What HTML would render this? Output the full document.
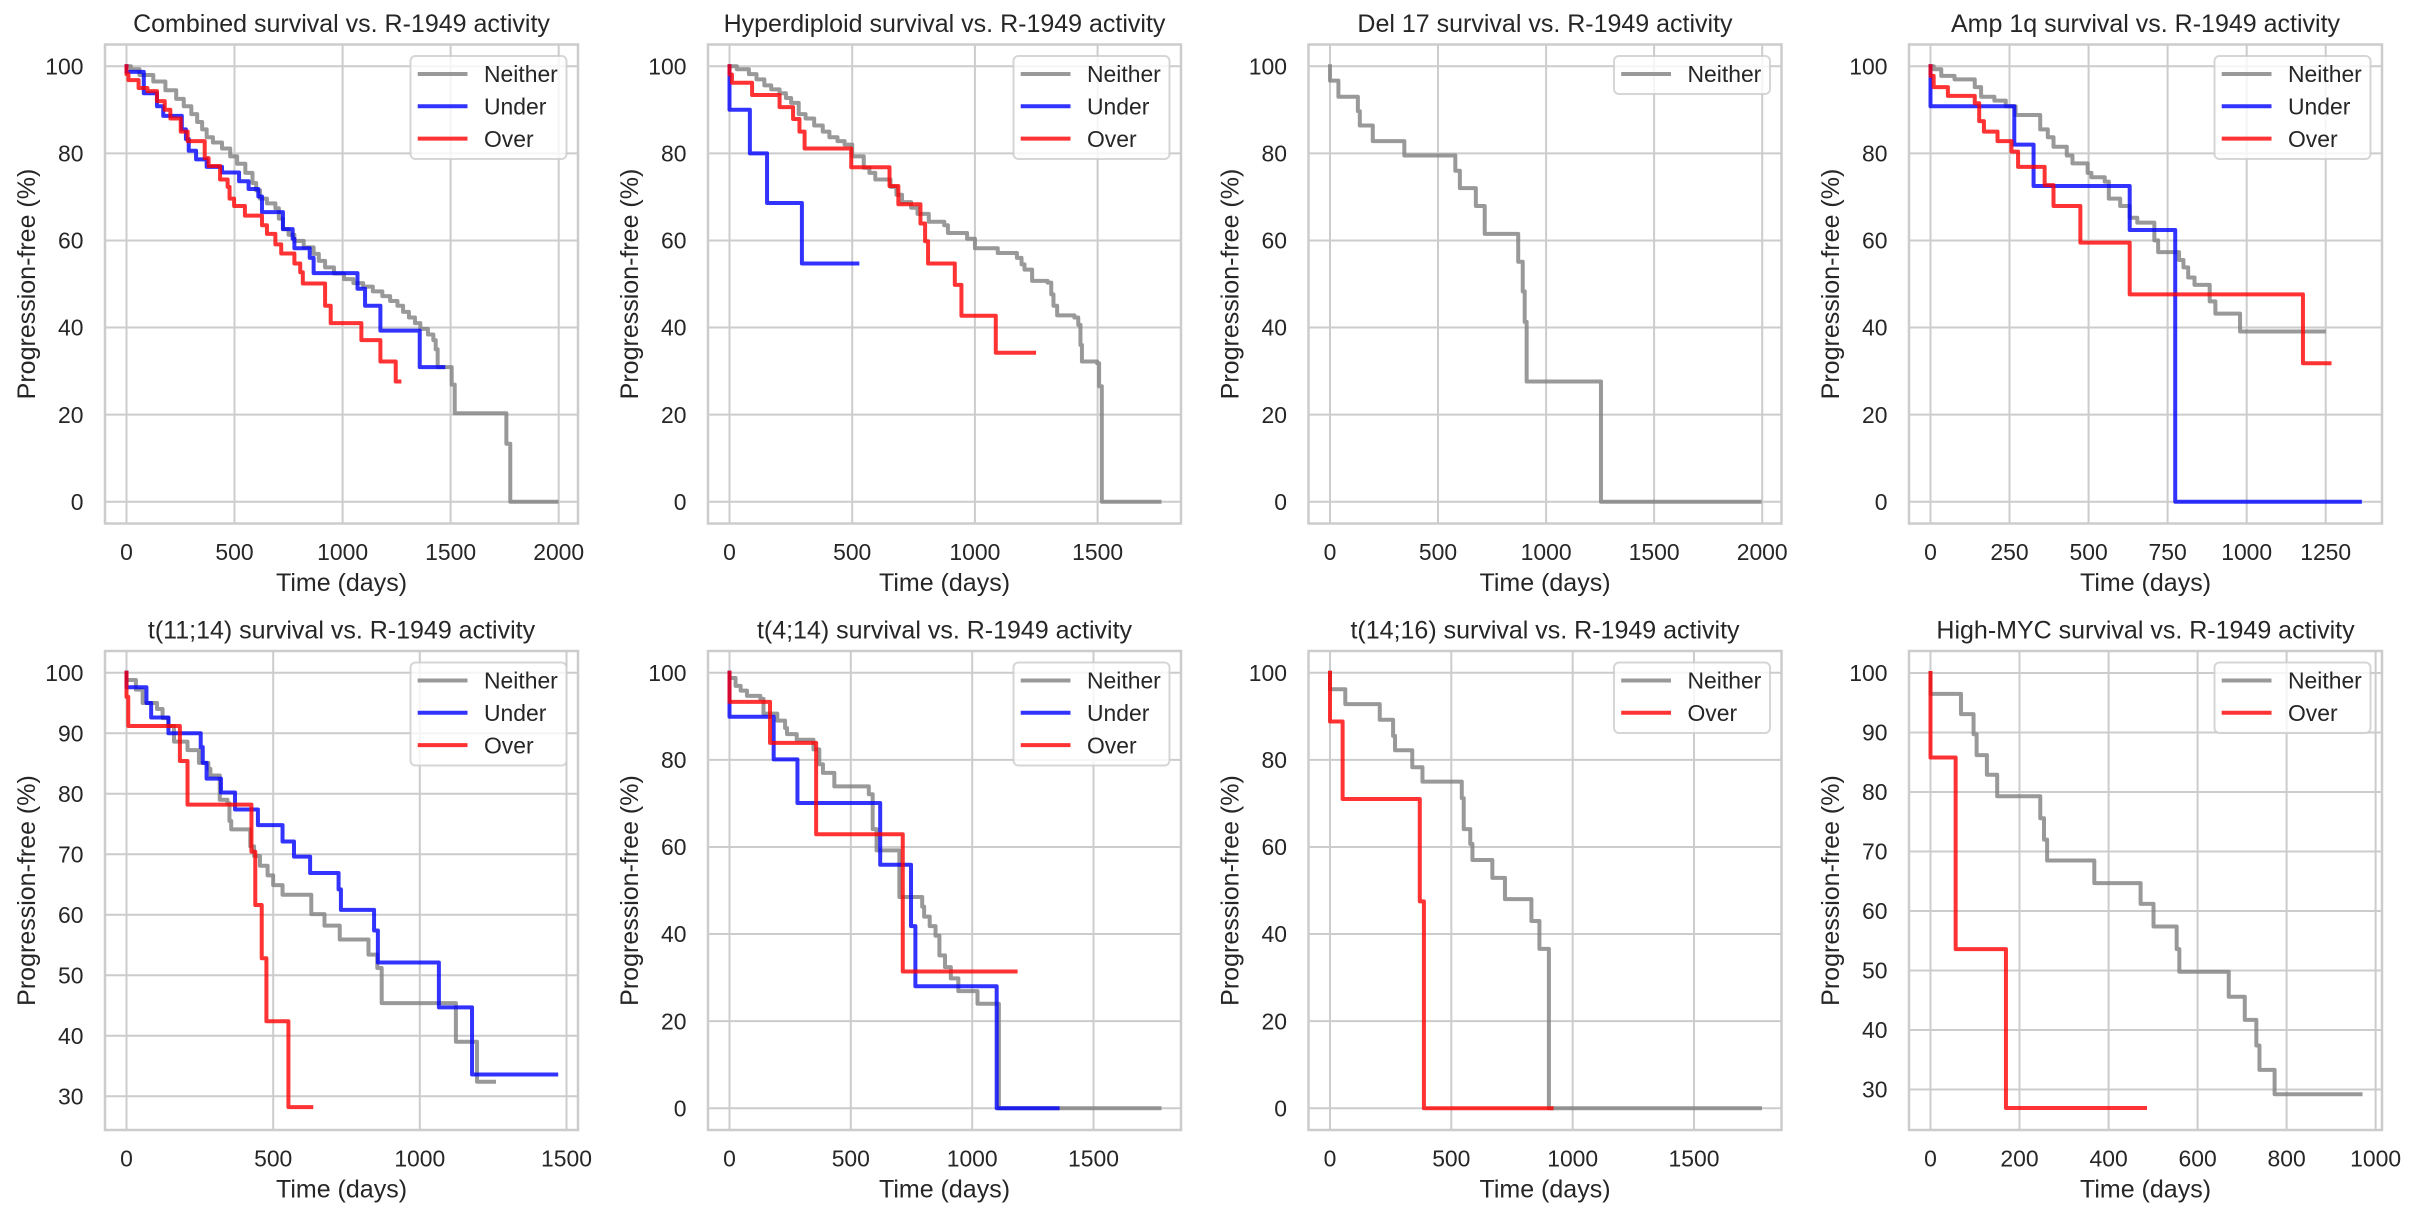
<!DOCTYPE html>
<html><head><meta charset="utf-8"><style>
body{margin:0;background:#fff}
svg{display:block}
text{font-family:"Liberation Sans",Arial,sans-serif;fill:#262626}
.g{fill:none;stroke:#cccccc;stroke-width:2}
.sp{fill:none;stroke:#cccccc;stroke-width:2.5}
.c{fill:none;stroke-width:4;stroke-linejoin:round;stroke-linecap:square;stroke-opacity:.8}
.h{fill:none;stroke-width:4;stroke-linecap:square;stroke-opacity:.8}
.n{stroke:#808080}.u{stroke:#0000ff}.o{stroke:#ff0000}
.ti{font-size:25px;text-anchor:middle}
.xl{font-size:25px;text-anchor:middle}
.xt{font-size:22.9px;text-anchor:middle}
.yt{font-size:22.9px;text-anchor:end}
.lg{font-size:22.9px}
.lf{fill:#fff;fill-opacity:.8;stroke:#cccccc;stroke-opacity:.8;stroke-width:2}
</style></head><body>
<svg width="2418" height="1218" viewBox="0 0 2418 1218" xmlns="http://www.w3.org/2000/svg">
<rect width="2418" height="1218" fill="#fff"/>

<!-- ================= Panel A: Combined ================= -->
<path class="g" d="M126.5 44.5V523.5M234.5 44.5V523.5M342.6 44.5V523.5M450.6 44.5V523.5M558.7 44.5V523.5M105 66.3H578M105 153.4H578M105 240.5H578M105 327.5H578M105 414.6H578M105 501.7H578"/>
<g transform="translate(126.5,501.7) scale(0.21608,-4.3545)">
<path class="c n" vector-effect="non-scaling-stroke" d="M0,100 H20 V99.3 H60 V98 H124 V96.5 H180 V94.5 H230 V92.5 H265 V90.8 H300 V89 H327 V87.2 H350 V85.5 H371 V83.7 H400 V82.5 H442 V81.1 H480 V79.3 H512 V77.6 H550 V75.5 H583 V73.2 H600 V71.5 H618 V69.6 H650 V68.5 H689 V67.4 H705 V65 H724 V62.6 H750 V61.3 H777 V59.9 H820 V58.4 H866 V56.9 H890 V55.3 H919 V53.8 H960 V52.4 H1007 V51.1 H1050 V50.2 H1095 V49.4 H1140 V48.3 H1184 V47.2 H1220 V46.1 H1254 V45 H1280 V43.6 H1307 V42.3 H1335 V41 H1360 V39.7 H1395 V38.4 H1420 V37.1 H1431 V35 H1440 V30.9 H1505 V26.9 H1519 V20.3 H1758 V13.3 H1776 V0 H1990"/>
<path class="c u" vector-effect="non-scaling-stroke" d="M0,100 V98.7 H80 V93.8 H141 V90.8 H170 V88.6 H256 V85.5 H275 V83.3 H288 V80.6 H322 V78.6 H371 V76.9 H442 V75.6 H521 V73.6 H565 V71.8 H610 V70.1 H627 V66.5 H724 V62.6 H769 V60.4 H777 V58.2 H848 V56 H866 V52.5 H1069 V48.9 H1104 V45 H1175 V39.3 H1357 V30.9 H1466"/>
<path class="c o" vector-effect="non-scaling-stroke" d="M0,100 V98.2 H9 V96.8 H56 V95 H97 V94.3 H141 V92 H177 V90 H203 V88 H251 V85 H283 V82.8 H362 V78.9 H380 V77.1 H433 V74 H468 V72.3 H477 V69.6 H498 V67.9 H548 V65.7 H627 V63.5 H650 V61.5 H689 V59.1 H716 V57 H777 V54.7 H804 V52.7 H816 V50.1 H919 V45 H945 V41 H1087 V37.1 H1175 V32.2 H1246 V27.6 H1263"/>
</g>
<rect class="sp" x="105" y="44.5" width="473" height="479"/>
<text class="yt" x="83.5" y="74.5">100</text><text class="yt" x="83.5" y="161.6">80</text><text class="yt" x="83.5" y="248.7">60</text><text class="yt" x="83.5" y="335.7">40</text><text class="yt" x="83.5" y="422.8">20</text><text class="yt" x="83.5" y="509.9">0</text>
<text class="xt" x="126.5" y="560">0</text><text class="xt" x="234.5" y="560">500</text><text class="xt" x="342.6" y="560">1000</text><text class="xt" x="450.6" y="560">1500</text><text class="xt" x="558.7" y="560">2000</text>
<text class="ti" x="341.5" y="32">Combined survival vs. R-1949 activity</text>
<text class="xl" x="341.5" y="591">Time (days)</text>
<text class="xl" transform="translate(35,284) rotate(-90)">Progression-free (%)</text>
<rect class="lf" x="410.5" y="56" width="156" height="103" rx="5"/>
<path class="h n" d="M419.7 74H465.5"/><path class="h u" d="M419.7 106.3H465.5"/><path class="h o" d="M419.7 138.6H465.5"/>
<text class="lg" x="484" y="82.2">Neither</text><text class="lg" x="484" y="114.5">Under</text><text class="lg" x="484" y="146.8">Over</text>

<!-- ================= Panel B: Hyperdiploid ================= -->
<path class="g" d="M729.5 44.5V523.5M852.2 44.5V523.5M974.9 44.5V523.5M1097.6 44.5V523.5M708 66.3H1181M708 153.4H1181M708 240.5H1181M708 327.5H1181M708 414.6H1181M708 501.7H1181"/>
<g transform="translate(729.5,501.7) scale(0.24543,-4.3545)">
<path class="c n" vector-effect="non-scaling-stroke" d="M0,100 H30 V99.3 H79 V98.2 H110 V97 H142 V95.6 H170 V94.7 H204 V93.8 H230 V92.7 H251 V91.6 H282 V89 H310 V88 H345 V86.4 H380 V85 H407 V83.7 H440 V82.8 H469 V82 H500 V79.3 H547 V76.7 H570 V75.5 H594 V74 H656 V72.3 H680 V70.5 H703 V68.8 H740 V67.5 H766 V66.1 H812 V64.3 H875 V63.5 H890 V61.7 H968 V60.4 H1000 V58.2 H1093 V57.1 H1171 V56 H1190 V54.5 H1202 V53.3 H1233 V50.7 H1296 V50.3 H1311 V47.6 H1320 V45 H1335 V42.8 H1405 V42.3 H1421 V40.6 H1430 V36 H1436 V32.2 H1498 V31.8 H1506 V26.5 H1517 V0 H1752"/>
<path class="c u" vector-effect="non-scaling-stroke" d="M0,100 V90 H83 V80 H153 V68.6 H295 V54.7 H521"/>
<path class="c o" vector-effect="non-scaling-stroke" d="M0,100 V98.1 H10 V96.2 H92 V93.4 H204 V90.6 H259 V87.9 H285 V85 H306 V81.1 H496 V76.8 H652 V72.5 H688 V68.3 H778 V63.9 H797 V59.8 H809 V54.7 H918 V49.8 H945 V42.7 H1085 V34.2 H1241"/>
</g>
<rect class="sp" x="708" y="44.5" width="473" height="479"/>
<text class="yt" x="686.5" y="74.5">100</text><text class="yt" x="686.5" y="161.6">80</text><text class="yt" x="686.5" y="248.7">60</text><text class="yt" x="686.5" y="335.7">40</text><text class="yt" x="686.5" y="422.8">20</text><text class="yt" x="686.5" y="509.9">0</text>
<text class="xt" x="729.5" y="560">0</text><text class="xt" x="852.2" y="560">500</text><text class="xt" x="974.9" y="560">1000</text><text class="xt" x="1097.6" y="560">1500</text>
<text class="ti" x="944.5" y="32">Hyperdiploid survival vs. R-1949 activity</text>
<text class="xl" x="944.5" y="591">Time (days)</text>
<text class="xl" transform="translate(638,284) rotate(-90)">Progression-free (%)</text>
<rect class="lf" x="1013.5" y="56" width="156" height="103" rx="5"/>
<path class="h n" d="M1022.7 74H1068.5"/><path class="h u" d="M1022.7 106.3H1068.5"/><path class="h o" d="M1022.7 138.6H1068.5"/>
<text class="lg" x="1087" y="82.2">Neither</text><text class="lg" x="1087" y="114.5">Under</text><text class="lg" x="1087" y="146.8">Over</text>

<!-- ================= Panel C: Del 17 ================= -->
<path class="g" d="M1330 44.5V523.5M1438 44.5V523.5M1546.1 44.5V523.5M1654.1 44.5V523.5M1762.2 44.5V523.5M1308.5 66.3H1781.5M1308.5 153.4H1781.5M1308.5 240.5H1781.5M1308.5 327.5H1781.5M1308.5 414.6H1781.5M1308.5 501.7H1781.5"/>
<g transform="translate(1330,501.7) scale(0.21608,-4.3545)">
<path class="c n" vector-effect="non-scaling-stroke" d="M0,100 V96.7 H39 V93 H129 V89.7 H138 V86.4 H198 V82.8 H344 V79.5 H580 V76 H601 V72 H675 V67.9 H716 V61.5 H871 V55.1 H892 V48.3 H901 V41.3 H910 V27.6 H1254 V0 H1988"/>
</g>
<rect class="sp" x="1308.5" y="44.5" width="473" height="479"/>
<text class="yt" x="1287" y="74.5">100</text><text class="yt" x="1287" y="161.6">80</text><text class="yt" x="1287" y="248.7">60</text><text class="yt" x="1287" y="335.7">40</text><text class="yt" x="1287" y="422.8">20</text><text class="yt" x="1287" y="509.9">0</text>
<text class="xt" x="1330" y="560">0</text><text class="xt" x="1438" y="560">500</text><text class="xt" x="1546.1" y="560">1000</text><text class="xt" x="1654.1" y="560">1500</text><text class="xt" x="1762.2" y="560">2000</text>
<text class="ti" x="1545" y="32">Del 17 survival vs. R-1949 activity</text>
<text class="xl" x="1545" y="591">Time (days)</text>
<text class="xl" transform="translate(1238.5,284) rotate(-90)">Progression-free (%)</text>
<rect class="lf" x="1614" y="56" width="156" height="38" rx="5"/>
<path class="h n" d="M1623.2 74H1669"/>
<text class="lg" x="1687.5" y="82.2">Neither</text>

<!-- ================= Panel D: Amp 1q ================= -->
<path class="g" d="M1930.5 44.5V523.5M2009.5 44.5V523.5M2088.6 44.5V523.5M2167.6 44.5V523.5M2246.7 44.5V523.5M2325.7 44.5V523.5M1909 66.3H2382M1909 153.4H2382M1909 240.5H2382M1909 327.5H2382M1909 414.6H2382M1909 501.7H2382"/>
<g transform="translate(1930.5,501.7) scale(0.31618,-4.3545)">
<path class="c n" vector-effect="non-scaling-stroke" d="M0,100 H10 V99.3 H34 V97.8 H76 V97 H140 V95.2 H160 V93 H202 V92.1 H238 V90.8 H269 V88.8 H347 V85.5 H371 V83.7 H389 V81.5 H431 V79.5 H449 V77.7 H497 V75.5 H509 V74.5 H551 V73.5 H564 V69.6 H600 V67.9 H630 V65.2 H654 V64.1 H708 V60 H720 V57.3 H786 V55.5 H800 V53.8 H815 V51.5 H835 V49.8 H883 V46 H901 V43.2 H979 V39.1 H1244"/>
<path class="c u" vector-effect="non-scaling-stroke" d="M0,100 V90.8 H265 V82 H326 V72.5 H630 V62.4 H774 V0 H1358"/>
<path class="c o" vector-effect="non-scaling-stroke" d="M0,100 V97.8 H10 V95.2 H55 V93.2 H140 V91.5 H154 V87.4 H169 V85 H212 V82.8 H256 V80.4 H277 V76.9 H361 V72.7 H389 V67.9 H474 V59.5 H630 V47.6 H1178 V31.8 H1262"/>
</g>
<rect class="sp" x="1909" y="44.5" width="473" height="479"/>
<text class="yt" x="1887.5" y="74.5">100</text><text class="yt" x="1887.5" y="161.6">80</text><text class="yt" x="1887.5" y="248.7">60</text><text class="yt" x="1887.5" y="335.7">40</text><text class="yt" x="1887.5" y="422.8">20</text><text class="yt" x="1887.5" y="509.9">0</text>
<text class="xt" x="1930.5" y="560">0</text><text class="xt" x="2009.5" y="560">250</text><text class="xt" x="2088.6" y="560">500</text><text class="xt" x="2167.6" y="560">750</text><text class="xt" x="2246.7" y="560">1000</text><text class="xt" x="2325.7" y="560">1250</text>
<text class="ti" x="2145.5" y="32">Amp 1q survival vs. R-1949 activity</text>
<text class="xl" x="2145.5" y="591">Time (days)</text>
<text class="xl" transform="translate(1839,284) rotate(-90)">Progression-free (%)</text>
<rect class="lf" x="2214.5" y="56" width="156" height="103" rx="5"/>
<path class="h n" d="M2223.7 74H2269.5"/><path class="h u" d="M2223.7 106.3H2269.5"/><path class="h o" d="M2223.7 138.6H2269.5"/>
<text class="lg" x="2288" y="82.2">Neither</text><text class="lg" x="2288" y="114.5">Under</text><text class="lg" x="2288" y="146.8">Over</text>

<!-- ================= Panel E: t(11;14) ================= -->
<path class="g" d="M126.5 651V1130M273.2 651V1130M419.8 651V1130M566.5 651V1130M105 672.7H578M105 733.2H578M105 793.7H578M105 854.2H578M105 914.8H578M105 975.3H578M105 1035.8H578M105 1096.3H578"/>
<g transform="translate(126.5,1277.8) scale(0.29332,-6.0511)">
<path class="c n" vector-effect="non-scaling-stroke" d="M0,100 V98.8 H32 V97.2 H55 V95 H104 V94 H123 V92.5 H143 V91.2 H162 V88.6 H208 V87.2 H247 V85.1 H279 V84.1 H286 V83 H318 V79 H344 V78.4 H351 V75.5 H357 V74.1 H422 V71.3 H435 V69.7 H455 V68.1 H481 V66.5 H500 V64.9 H532 V63.3 H630 V60.1 H675 V58.2 H727 V55.9 H825 V53.4 H855 V51.2 H870 V45.4 H1123 V39 H1195 V32.4 H1253"/>
<path class="c u" vector-effect="non-scaling-stroke" d="M0,100 V97.6 H68 V95 H84 V92.6 H143 V90 H253 V87.7 H260 V85.1 H273 V82.5 H322 V80.2 H370 V77.4 H448 V74.8 H532 V72.1 H571 V69.6 H626 V66.9 H723 V64.2 H731 V60.8 H844 V57.4 H857 V52.1 H1065 V44.7 H1178 V33.6 H1465"/>
<path class="c o" vector-effect="non-scaling-stroke" d="M0,100 V96 H6 V91.2 H182 V85.4 H208 V78.2 H426 V70.4 H439 V61.6 H461 V52.8 H477 V42.4 H552 V28.2 H630"/>
</g>
<rect class="sp" x="105" y="651" width="473" height="479"/>
<text class="yt" x="83.5" y="680.9">100</text><text class="yt" x="83.5" y="741.4">90</text><text class="yt" x="83.5" y="801.9">80</text><text class="yt" x="83.5" y="862.4">70</text><text class="yt" x="83.5" y="923">60</text><text class="yt" x="83.5" y="983.5">50</text><text class="yt" x="83.5" y="1044">40</text><text class="yt" x="83.5" y="1104.5">30</text>
<text class="xt" x="126.5" y="1166.5">0</text><text class="xt" x="273.2" y="1166.5">500</text><text class="xt" x="419.8" y="1166.5">1000</text><text class="xt" x="566.5" y="1166.5">1500</text>
<text class="ti" x="341.5" y="638.5">t(11;14) survival vs. R-1949 activity</text>
<text class="xl" x="341.5" y="1197.5">Time (days)</text>
<text class="xl" transform="translate(35,890.5) rotate(-90)">Progression-free (%)</text>
<rect class="lf" x="410.5" y="662.5" width="156" height="103" rx="5"/>
<path class="h n" d="M419.7 680.5H465.5"/><path class="h u" d="M419.7 712.8H465.5"/><path class="h o" d="M419.7 745.1H465.5"/>
<text class="lg" x="484" y="688.7">Neither</text><text class="lg" x="484" y="721">Under</text><text class="lg" x="484" y="753.3">Over</text>

<!-- ================= Panel F: t(4;14) ================= -->
<path class="g" d="M729.5 651V1130M850.8 651V1130M972.2 651V1130M1093.5 651V1130M708 672.8H1181M708 759.9H1181M708 847H1181M708 934H1181M708 1021.1H1181M708 1108.2H1181"/>
<g transform="translate(729.5,1108.2) scale(0.24267,-4.3545)">
<path class="c n" vector-effect="non-scaling-stroke" d="M0,100 V98.8 H25 V97 H46 V95.9 H72 V94.7 H127 V94 H140 V90.6 H197 V89 H229 V87.3 H237 V85.9 H277 V84.6 H346 V82.4 H370 V79 H385 V77 H432 V73.9 H574 V72.1 H590 V64.1 H606 V59.2 H700 V48.5 H794 V46.3 H802 V44 H825 V41.8 H849 V39.6 H865 V35.1 H888 V32.4 H912 V29.8 H943 V26.9 H1022 V24 H1110 V0 H1772"/>
<path class="c u" vector-effect="non-scaling-stroke" d="M0,100 V89.9 H182 V80.1 H280 V70.1 H621 V55.9 H748 V41.8 H766 V28 H1101 V0 H1352"/>
<path class="c o" vector-effect="non-scaling-stroke" d="M0,100 V93.3 H167 V83.9 H357 V62.9 H714 V31.4 H1179"/>
</g>
<rect class="sp" x="708" y="651" width="473" height="479"/>
<text class="yt" x="686.5" y="681">100</text><text class="yt" x="686.5" y="768.1">80</text><text class="yt" x="686.5" y="855.2">60</text><text class="yt" x="686.5" y="942.2">40</text><text class="yt" x="686.5" y="1029.3">20</text><text class="yt" x="686.5" y="1116.4">0</text>
<text class="xt" x="729.5" y="1166.5">0</text><text class="xt" x="850.8" y="1166.5">500</text><text class="xt" x="972.2" y="1166.5">1000</text><text class="xt" x="1093.5" y="1166.5">1500</text>
<text class="ti" x="944.5" y="638.5">t(4;14) survival vs. R-1949 activity</text>
<text class="xl" x="944.5" y="1197.5">Time (days)</text>
<text class="xl" transform="translate(638,890.5) rotate(-90)">Progression-free (%)</text>
<rect class="lf" x="1013.5" y="662.5" width="156" height="103" rx="5"/>
<path class="h n" d="M1022.7 680.5H1068.5"/><path class="h u" d="M1022.7 712.8H1068.5"/><path class="h o" d="M1022.7 745.1H1068.5"/>
<text class="lg" x="1087" y="688.7">Neither</text><text class="lg" x="1087" y="721">Under</text><text class="lg" x="1087" y="753.3">Over</text>

<!-- ================= Panel G: t(14;16) ================= -->
<path class="g" d="M1330 651V1130M1451.3 651V1130M1572.7 651V1130M1694 651V1130M1308.5 672.8H1781.5M1308.5 759.9H1781.5M1308.5 847H1781.5M1308.5 934H1781.5M1308.5 1021.1H1781.5M1308.5 1108.2H1781.5"/>
<g transform="translate(1330,1108.2) scale(0.24267,-4.3545)">
<path class="c n" vector-effect="non-scaling-stroke" d="M0,100 V96.2 H63 V92.8 H205 V89.2 H260 V85.5 H268 V82.2 H339 V78.3 H381 V75 H543 V71.2 H551 V64.1 H578 V60.7 H587 V57 H669 V52.9 H721 V48 H830 V43 H863 V36.6 H902 V0 H1772"/>
<path class="c o" vector-effect="non-scaling-stroke" d="M0,100 V88.8 H52 V71 H370 V47.5 H387 V0 H913"/>
</g>
<rect class="sp" x="1308.5" y="651" width="473" height="479"/>
<text class="yt" x="1287" y="681">100</text><text class="yt" x="1287" y="768.1">80</text><text class="yt" x="1287" y="855.2">60</text><text class="yt" x="1287" y="942.2">40</text><text class="yt" x="1287" y="1029.3">20</text><text class="yt" x="1287" y="1116.4">0</text>
<text class="xt" x="1330" y="1166.5">0</text><text class="xt" x="1451.3" y="1166.5">500</text><text class="xt" x="1572.7" y="1166.5">1000</text><text class="xt" x="1694" y="1166.5">1500</text>
<text class="ti" x="1545" y="638.5">t(14;16) survival vs. R-1949 activity</text>
<text class="xl" x="1545" y="1197.5">Time (days)</text>
<text class="xl" transform="translate(1238.5,890.5) rotate(-90)">Progression-free (%)</text>
<rect class="lf" x="1614" y="662.5" width="156" height="70.5" rx="5"/>
<path class="h n" d="M1623.2 680.5H1669"/><path class="h o" d="M1623.2 712.8H1669"/>
<text class="lg" x="1687.5" y="688.7">Neither</text><text class="lg" x="1687.5" y="721">Over</text>

<!-- ================= Panel H: High-MYC ================= -->
<path class="g" d="M1930.5 651V1130M2019.5 651V1130M2108.6 651V1130M2197.6 651V1130M2286.6 651V1130M2375.6 651V1130M1909 673H2382M1909 732.5H2382M1909 792H2382M1909 851.5H2382M1909 911H2382M1909 970.5H2382M1909 1030H2382M1909 1089.5H2382"/>
<g transform="translate(1930.5,1268.05) scale(0.44514,-5.9503)">
<path class="c n" vector-effect="non-scaling-stroke" d="M0,100 V96.5 H68.5 V93.1 H96.7 V89.7 H103.6 V86.2 H126.7 V82.9 H149.8 V79.3 H246.6 V75.6 H255 V72 H262 V68.5 H368 V64.7 H472 V61.2 H501 V57.4 H553 V53.6 H559 V49.8 H670 V45.6 H706 V41.7 H732 V37.4 H739 V33.3 H773 V29.2 H966"/>
<path class="c o" vector-effect="non-scaling-stroke" d="M0,100 V85.8 H56.5 V53.6 H169.5 V26.9 H482"/>
</g>
<rect class="sp" x="1909" y="651" width="473" height="479"/>
<text class="yt" x="1887.5" y="681.2">100</text><text class="yt" x="1887.5" y="740.7">90</text><text class="yt" x="1887.5" y="800.2">80</text><text class="yt" x="1887.5" y="859.7">70</text><text class="yt" x="1887.5" y="919.2">60</text><text class="yt" x="1887.5" y="978.7">50</text><text class="yt" x="1887.5" y="1038.2">40</text><text class="yt" x="1887.5" y="1097.7">30</text>
<text class="xt" x="1930.5" y="1166.5">0</text><text class="xt" x="2019.5" y="1166.5">200</text><text class="xt" x="2108.6" y="1166.5">400</text><text class="xt" x="2197.6" y="1166.5">600</text><text class="xt" x="2286.6" y="1166.5">800</text><text class="xt" x="2375.6" y="1166.5">1000</text>
<text class="ti" x="2145.5" y="638.5">High-MYC survival vs. R-1949 activity</text>
<text class="xl" x="2145.5" y="1197.5">Time (days)</text>
<text class="xl" transform="translate(1839,890.5) rotate(-90)">Progression-free (%)</text>
<rect class="lf" x="2214.5" y="662.5" width="156" height="70.5" rx="5"/>
<path class="h n" d="M2223.7 680.5H2269.5"/><path class="h o" d="M2223.7 712.8H2269.5"/>
<text class="lg" x="2288" y="688.7">Neither</text><text class="lg" x="2288" y="721">Over</text>
</svg>
</body></html>
